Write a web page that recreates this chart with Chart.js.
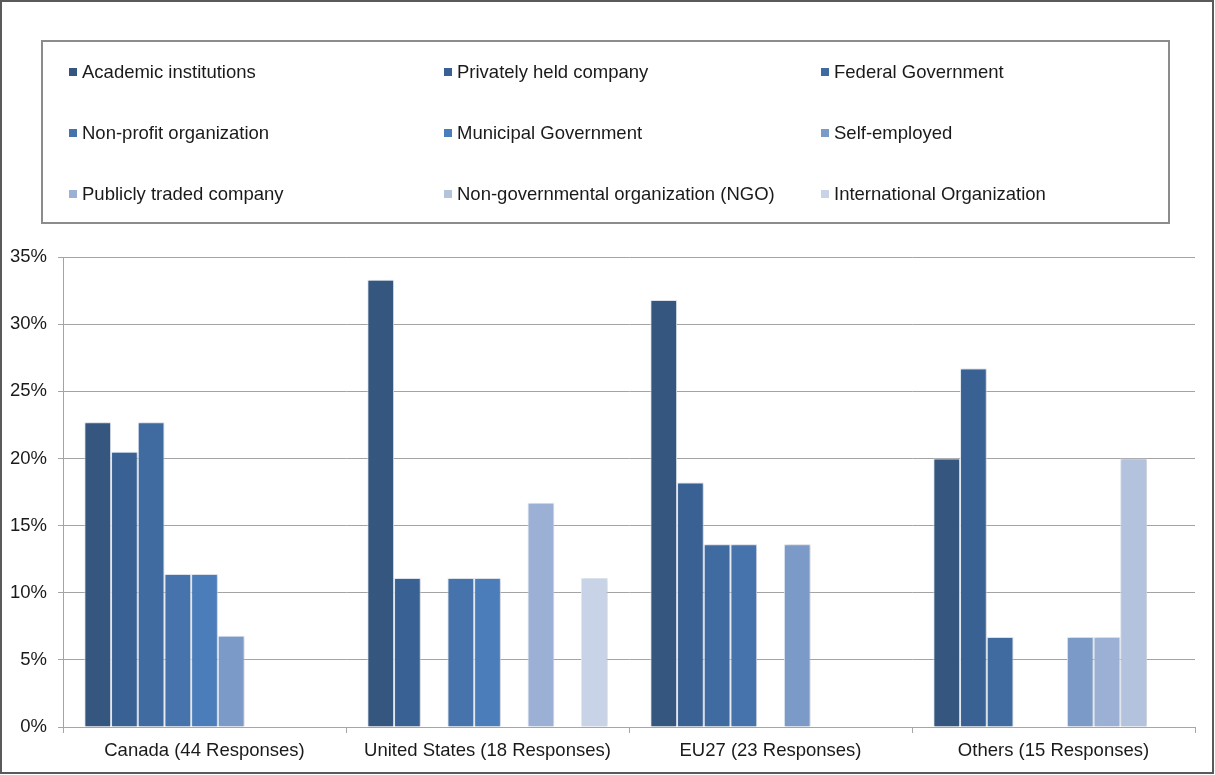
<!DOCTYPE html>
<html>
<head>
<meta charset="utf-8">
<title>Respondents by employer type</title>
<script src="https://cdn.jsdelivr.net/npm/chart.js@4/dist/chart.umd.min.js"></script>
<style>
  html, body { margin: 0; padding: 0; background: #ffffff; }
  #wrap { position: relative; width: 1215px; height: 775px; }
  canvas { display: block; }
</style>
</head>
<body>
<div id="wrap"><canvas id="chart" width="1215" height="775"></canvas></div>
<script>
// Regions surveyed
const categories = [
  'Canada (44 Responses)',
  'United States (18 Responses)',
  'EU27 (23 Responses)',
  'Others (15 Responses)'
];

// Share of respondents (%) per employer type, one value per region
const academicInstitutions   = [22.7, 33.3, 31.8, 20.0];
const privatelyHeldCompany   = [20.5, 11.1, 18.2, 26.7];
const federalGovernment      = [22.7,  0.0, 13.6,  6.7];
const nonProfitOrganization  = [11.4, 11.1, 13.6,  0.0];
const municipalGovernment    = [11.4, 11.1,  0.0,  0.0];
const selfEmployed           = [ 6.8,  0.0, 13.6,  6.7];
const publiclyTradedCompany  = [ 0.0, 16.7,  0.0,  6.7];
const nonGovernmentalOrg     = [ 0.0,  0.0,  0.0, 20.0];
const internationalOrg       = [ 0.0, 11.1,  0.0,  0.0];

const seriesNames = [
  'Academic institutions',
  'Privately held company',
  'Federal Government',
  'Non-profit organization',
  'Municipal Government',
  'Self-employed',
  'Publicly traded company',
  'Non-governmental organization (NGO)',
  'International Organization'
];
const seriesValues = [
  academicInstitutions, privatelyHeldCompany, federalGovernment,
  nonProfitOrganization, municipalGovernment, selfEmployed,
  publiclyTradedCompany, nonGovernmentalOrg, internationalOrg
];
const seriesColors = [
  '#35577f', '#3a6193', '#406ba0', '#4673ab', '#4b7dbb',
  '#7c9ac7', '#9bb0d4', '#b3c3de', '#c8d3e7'
];

const yTicks = [0, 5, 10, 15, 20, 25, 30, 35];

const FONT = "'Liberation Sans', Arial, sans-serif";
const FONT_SIZE = 18.5;
const TEXT = '#1a1a1a';

// Outer frame and the boxed three-column legend
const framePlugin = {
  id: 'frameAndLegend',
  afterDraw(chart) {
    const ctx = chart.ctx;
    ctx.save();
    ctx.strokeStyle = '#5a5a5a';
    ctx.lineWidth = 2;
    ctx.strokeRect(1, 1, 1212, 772);

    ctx.strokeStyle = '#8c8c8c';
    ctx.lineWidth = 2;
    ctx.strokeRect(42, 41, 1127, 182);

    const colX = [69, 444, 821];
    const rowBase = [78, 139, 200];
    ctx.font = FONT_SIZE + 'px ' + FONT;
    ctx.textBaseline = 'alphabetic';
    ctx.textAlign = 'left';
    seriesNames.forEach((name, i) => {
      const col = i % 3, row = Math.floor(i / 3);
      const x = colX[col], y = rowBase[row];
      ctx.fillStyle = seriesColors[i];
      ctx.fillRect(x, y - 10, 8, 8);
      ctx.fillStyle = TEXT;
      ctx.fillText(name, x + 13, y);
    });
    ctx.restore();
  }
};

// Soft halo behind the bars
const barShadow = {
  id: 'barShadow',
  beforeDatasetsDraw(chart) {
    const ctx = chart.ctx;
    ctx.save();
    ctx.shadowColor = 'rgba(0,0,0,0.18)';
    ctx.shadowBlur = 3;
    ctx.shadowOffsetX = 1;
    ctx.shadowOffsetY = 0;
  },
  afterDatasetsDraw(chart) {
    chart.ctx.restore();
  }
};

const datasets = seriesNames.map((name, i) => ({
  label: name,
  data: seriesValues[i],
  backgroundColor: seriesColors[i],
  borderColor: '#e4ecf7',
  borderWidth: 1,
  borderSkipped: 'bottom',
  categoryPercentage: 9 / 10.6,
  barPercentage: 1.0
}));

new Chart(document.getElementById('chart'), {
  type: 'bar',
  data: { labels: categories, datasets },
  plugins: [framePlugin, barShadow],
  options: {
    responsive: false,
    animation: false,
    devicePixelRatio: 1,
    layout: { padding: { left: 0, right: 20, top: 257, bottom: 0 } },
    plugins: {
      legend: { display: false },
      tooltip: { enabled: false }
    },
    scales: {
      x: {
        offset: true,
        grid: {
          offset: true,
          drawOnChartArea: false,
          drawTicks: true,
          tickLength: 6,
          color: '#a6a6a6',
          lineWidth: 1
        },
        border: { display: true, color: '#a6a6a6', width: 1 },
        ticks: {
          color: TEXT,
          font: { family: FONT, size: FONT_SIZE },
          padding: 7,
          maxRotation: 0,
          autoSkip: false
        },
        afterFit(scale) { scale.height = 48; }
      },
      y: {
        min: 0,
        max: 35,
        afterBuildTicks(scale) {
          scale.ticks = yTicks.map(v => ({ value: v }));
        },
        grid: {
          color: '#a4a4a4',
          lineWidth: 1,
          drawTicks: true,
          tickLength: 5
        },
        border: { display: true, color: '#a4a4a4', width: 1 },
        ticks: {
          color: TEXT,
          font: { family: FONT, size: FONT_SIZE },
          padding: 11,
          callback: v => v + '%'
        },
        afterFit(scale) { scale.width = 63; }
      }
    }
  }
});
</script>
</body>
</html>
